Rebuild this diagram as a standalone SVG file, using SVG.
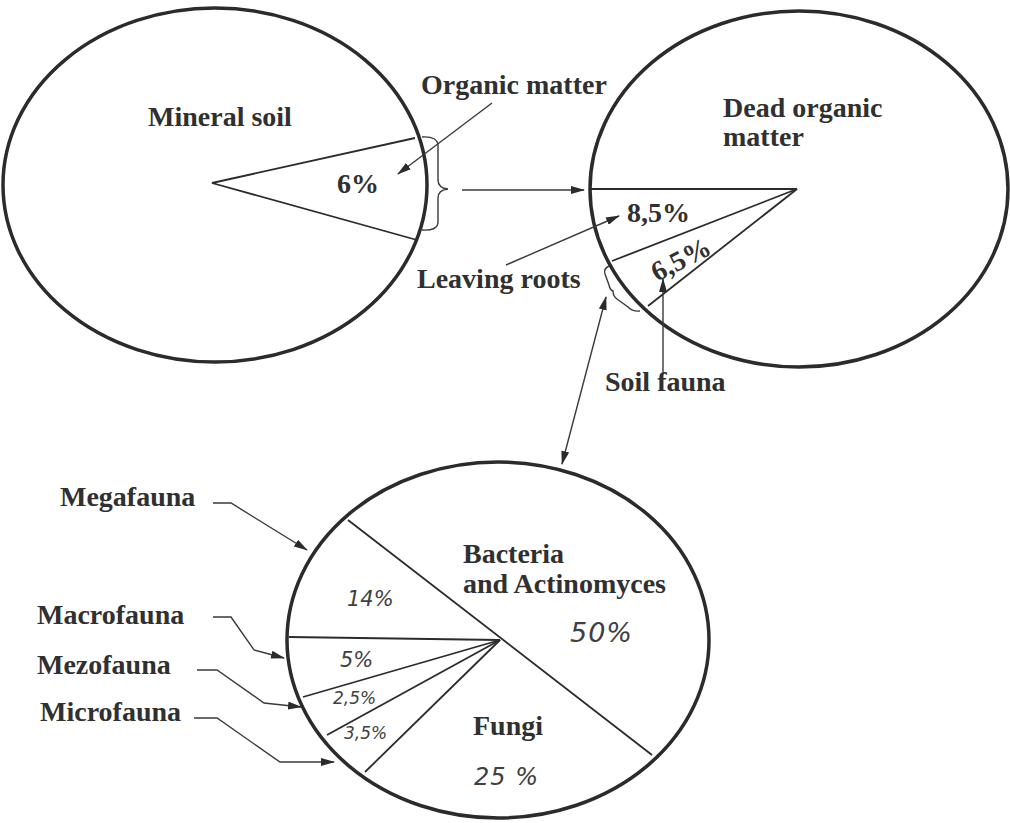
<svg xmlns="http://www.w3.org/2000/svg" width="1010" height="823" viewBox="0 0 1010 823">
  <style>
    .pie { fill: none; stroke: #2b2b2b; stroke-width: 3.5; }
    .cut { fill: none; stroke: #2b2b2b; stroke-width: 1.8; }
    .thin { fill: none; stroke: #3a3a3a; stroke-width: 1.4; }
    .lbl { font-family: "Liberation Serif", "Times New Roman", serif; font-weight: bold; font-size: 28px; fill: #303030; }
    .hand { font-family: "DejaVu Sans", "Liberation Sans", sans-serif; font-style: italic; font-weight: 300; fill: #404040; }
  </style>
  <defs>
    <marker id="ah" viewBox="0 0 14 8" refX="13" refY="4" markerWidth="14" markerHeight="8" markerUnits="userSpaceOnUse" orient="auto-start-reverse">
      <path d="M0,0 L14,4 L0,8 Z" fill="#2b2b2b"/>
    </marker>
  </defs>
  <rect width="1010" height="823" fill="#ffffff"/>

  <!-- Mineral soil pie -->
  <g id="mineral-soil">
    <ellipse class="pie" cx="215" cy="185" rx="212" ry="177"/>
    <polyline class="cut" points="415,138 212,183 417,240"/>
    <text class="lbl" x="148" y="126">Mineral soil</text>
    <text class="lbl" x="337" y="193">6%</text>
  </g>

  <!-- Dead organic matter pie -->
  <g id="dead-organic-matter">
    <ellipse class="pie" cx="799" cy="189" rx="209" ry="178"/>
    <polyline class="cut" points="591,189 797,189 612,261"/>
    <line class="cut" x1="797" y1="189" x2="648" y2="306"/>
    <text class="lbl" x="723" y="117" font-size="27">Dead organic</text>
    <text class="lbl" x="723" y="146" font-size="27">matter</text>
    <text class="lbl" x="627" y="222">8,5%</text>
    <text class="lbl" x="0" y="0" transform="translate(657,282) rotate(-27)">6,5%</text>
  </g>

  <!-- Soil biota pie -->
  <g id="soil-biota">
    <ellipse class="pie" cx="498" cy="640" rx="211" ry="178"/>
    <line class="cut" x1="348" y1="520" x2="652" y2="755"/>
    <polyline class="cut" points="289,637 500,640 303,697"/>
    <line class="cut" x1="500" y1="640" x2="327" y2="735"/>
    <line class="cut" x1="500" y1="640" x2="365" y2="772"/>
    <text class="lbl" x="463" y="563">Bacteria</text>
    <text class="lbl" x="463" y="593">and Actinomyces</text>
    <text class="lbl" x="473" y="735">Fungi</text>
    <text class="hand" x="570" y="642" font-size="27" letter-spacing="1">50%</text>
    <text class="hand" x="474" y="785" font-size="24" letter-spacing="1">25 %</text>
    <text class="hand" x="347" y="606" font-size="21">14%</text>
    <text class="hand" x="340" y="667" font-size="21">5%</text>
    <text class="hand" x="333" y="704" font-size="17">2,5%</text>
    <text class="hand" x="344" y="739" font-size="17">3,5%</text>
  </g>

  <!-- Free labels -->
  <g id="labels">
    <text class="lbl" x="421" y="94">Organic matter</text>
    <text class="lbl" x="417" y="288">Leaving roots</text>
    <text class="lbl" x="605" y="391">Soil fauna</text>
    <text class="lbl" x="60" y="506">Megafauna</text>
    <text class="lbl" x="37" y="624">Macrofauna</text>
    <text class="lbl" x="37" y="674">Mezofauna</text>
    <text class="lbl" x="40" y="721">Microfauna</text>
  </g>

  <!-- Connectors -->
  <g id="connectors">
    <!-- brace gathering the organic matter wedge -->
    <path class="thin" d="M422,137 Q438,136 438,146 L438,180 Q438,188 448,189 Q438,190 438,198 L438,222 Q438,231 422,230"/>
    <line class="thin" x1="462" y1="190" x2="584" y2="190" marker-end="url(#ah)"/>
    <line class="thin" x1="492" y1="103" x2="398" y2="174" marker-end="url(#ah)"/>
    <line class="thin" x1="506" y1="265" x2="619" y2="216" marker-end="url(#ah)"/>
    <!-- small brace on the fauna wedge -->
    <path class="thin" d="M609,266 Q603,269 605,274 L609,285 Q610,290 613,291 Q613,296 617,299 L628,307 Q633,312 640,311"/>
    <line class="thin" x1="663" y1="372" x2="663" y2="279" marker-end="url(#ah)"/>
    <line class="thin" x1="606" y1="297" x2="562" y2="464" marker-start="url(#ah)" marker-end="url(#ah)"/>
    <!-- fauna size class pointers -->
    <polyline class="thin" points="213,503 231,503 307,550" marker-end="url(#ah)"/>
    <polyline class="thin" points="213,617 231,617 254,650 284,658" marker-end="url(#ah)"/>
    <polyline class="thin" points="197,670 217,670 264,703 301,707" marker-end="url(#ah)"/>
    <polyline class="thin" points="194,718 217,718 280,762 334,762" marker-end="url(#ah)"/>
  </g>
</svg>
